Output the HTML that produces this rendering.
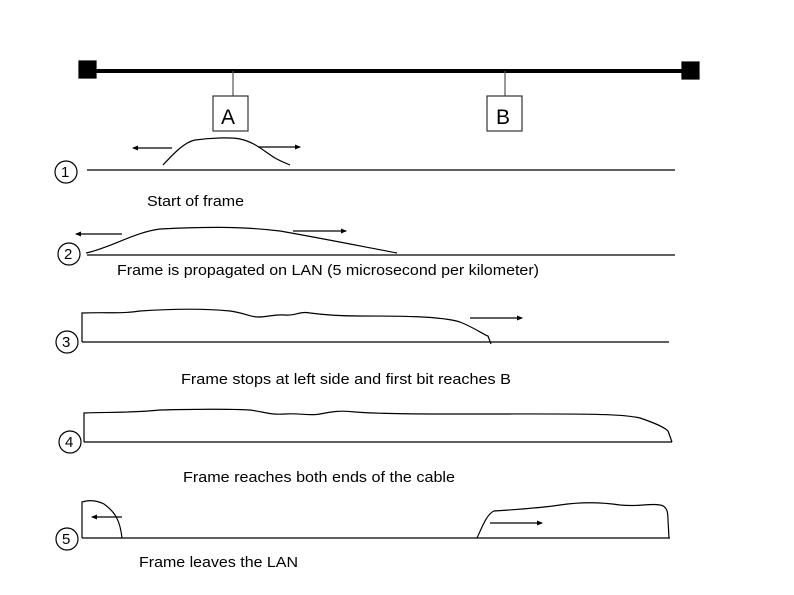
<!DOCTYPE html>
<html><head><style>
html,body{margin:0;padding:0;background:#fff;}
svg{display:block;}
text{font-family:"Liberation Sans",sans-serif;fill:#000;}
</style></head><body>
<svg width="794" height="595" viewBox="0 0 794 595" xmlns="http://www.w3.org/2000/svg">
<defs>
<marker id="ar" markerWidth="6" markerHeight="6" refX="5" refY="3" orient="auto" markerUnits="userSpaceOnUse">
<path d="M0,0.5 L6,3 L0,5.5 z" fill="#000"/>
</marker>
</defs>
<g stroke="#000" fill="none" stroke-width="1.2">
<line x1="88" y1="71" x2="690" y2="71" stroke-width="4"/>
<rect x="79" y="61" width="17" height="17" fill="#000"/>
<rect x="682" y="62" width="17" height="17" fill="#000"/>
<line x1="233" y1="71" x2="233" y2="96" stroke="#555"/>
<rect x="213" y="96" width="35" height="35" stroke="#333"/>
<line x1="505" y1="71" x2="505" y2="96" stroke="#555"/>
<rect x="487" y="96" width="35" height="35" stroke="#333"/>

<circle cx="66" cy="172" r="11"/>
<line x1="87" y1="170" x2="675" y2="170"/>
<path d="M163,165 C175,152 185,142 195,140 C210,138 230,137 240,139 C255,142 265,152 275,158 C282,162 288,164 290,165"/>
<line x1="172" y1="148" x2="133" y2="148" marker-end="url(#ar)"/>
<line x1="258" y1="147" x2="300" y2="147" marker-end="url(#ar)"/>

<circle cx="69" cy="254" r="11"/>
<line x1="87" y1="255" x2="675" y2="255"/>
<path d="M86,253 C110,248 135,232 160,229 C200,227 240,226 280,231 C320,238 360,246 397,253"/>
<line x1="122" y1="234" x2="76" y2="234" marker-end="url(#ar)"/>
<line x1="293" y1="231" x2="346" y2="231" marker-end="url(#ar)"/>

<circle cx="67" cy="342" r="11"/>
<line x1="82" y1="342" x2="669" y2="342"/>
<path d="M82,342 L82,313 C110,312 120,314 140,311 C170,309 200,308 230,311 C245,313 250,317 258,317 C268,317 275,314 285,315 C295,316 300,311 310,313 C325,315 340,316 360,316 C400,316 440,316 460,322 C475,328 486,336 488,336 L491,344"/>
<line x1="470" y1="318" x2="522" y2="318" marker-end="url(#ar)"/>

<circle cx="70" cy="442" r="11"/>
<line x1="84" y1="442" x2="672" y2="442"/>
<path d="M84,442 L84,413 C110,412 130,413 160,410 C200,409 230,409 250,410 C265,412 270,415 285,414 C300,413 310,416 320,414 C330,412 340,410 355,412 C380,414 420,414 480,414 C560,414 620,413 640,418 C655,423 665,428 668,431 L672,442"/>

<circle cx="67" cy="539" r="11"/>
<line x1="82" y1="538" x2="670" y2="538"/>
<path d="M82,538 L82,502 C88,500 96,500 104,504 C115,512 120,520 122,538"/>
<line x1="122" y1="517" x2="92" y2="517" marker-end="url(#ar)"/>
<path d="M477,538 C483,525 487,514 494,511 C510,510 540,508 560,505 C580,502 600,502 620,505 C640,507 650,503 660,505 C667,506 668,512 668,520 L669,538"/>
<line x1="490" y1="523" x2="542" y2="523" marker-end="url(#ar)"/>
</g>
<text x="221" y="124" font-size="21">A</text>
<text x="496" y="124" font-size="21">B</text>
<text x="61" y="177" font-size="15">1</text>
<text x="64" y="259" font-size="15">2</text>
<text x="62" y="347" font-size="15">3</text>
<text x="65" y="447" font-size="15">4</text>
<text x="62" y="544" font-size="15">5</text>
<text x="147" y="206" font-size="15" textLength="97" lengthAdjust="spacingAndGlyphs">Start of frame</text>
<text x="117" y="275" font-size="15" textLength="422" lengthAdjust="spacingAndGlyphs">Frame is propagated on LAN (5 microsecond per kilometer)</text>
<text x="181" y="384" font-size="15" textLength="330" lengthAdjust="spacingAndGlyphs">Frame stops at left side and first bit reaches B</text>
<text x="183" y="482" font-size="15" textLength="272" lengthAdjust="spacingAndGlyphs">Frame reaches both ends of the cable</text>
<text x="139" y="567" font-size="15" textLength="159" lengthAdjust="spacingAndGlyphs">Frame leaves the LAN</text>
</svg>
</body></html>
